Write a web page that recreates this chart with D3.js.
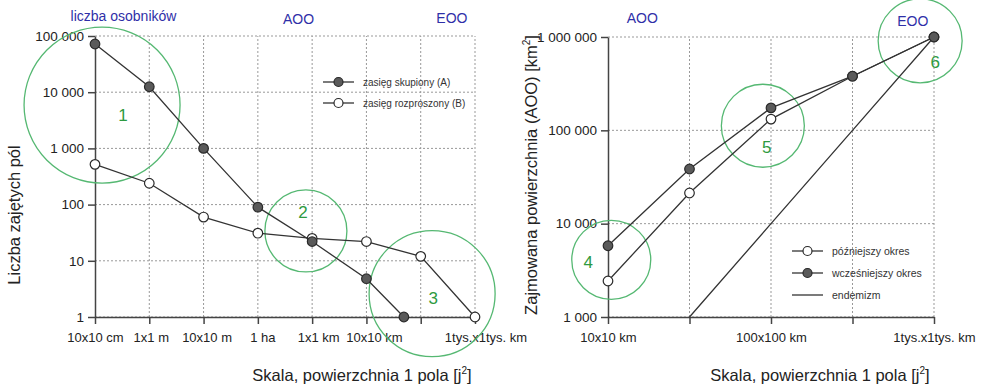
<!DOCTYPE html>
<html>
<head>
<meta charset="utf-8">
<script src="https://cdn.jsdelivr.net/npm/d3@7"></script>
<style>
  body { margin: 0; background: #fff; }
  svg { font-family: "Liberation Sans", Arial, sans-serif; }
</style>
</head>
<body>
<div id="chart"></div>
<script>
// ---- dane: wykres lewy (liczba zajetych pol) ----
var leftTickLabels = ["10x10 cm", "1x1 m", "10x10 m", "1 ha", "1x1 km", "10x10 km", "", "1tys.x1tys. km"];
var leftTickPos = [-2, 0, 2, 4, 6, 8, 10, 12]; // log10 powierzchni pola [m2]
var leftYTicks = [1, 10, 100, 1000, 10000, 100000];
var seriesAx = [-2, 0, 2, 4, 6, 8, 9.38];
var seriesA = [72000, 12500, 1000, 90, 22, 4.8, 1];      // zasieg skupiony (A)
var seriesBx = [-2, 0, 2, 4, 6, 8, 10, 12];
var seriesB = [520, 240, 60, 31, 25, 22, 12, 1];         // zasieg rozproszony (B)

// ---- dane: wykres prawy (AOO) ----
var rightTickLabels = ["10x10 km", "", "100x100 km", "", "1tys.x1tys. km"];
var rightTickPos = [2, 3, 4, 5, 6]; // log10 powierzchni pola [km2]
var rightYTicks = [1000, 10000, 100000, 1000000];
var laterX = [2, 3, 4, 5, 6];
var later = [2430, 21300, 132000, 380000, 1000000];      // pozniejszy okres
var earlierX = [2, 3, 4, 5, 6];
var earlier = [5800, 38500, 174000, 380000, 1000000];    // wczesniejszy okres
var endemX = [3, 4, 5, 6];
var endem = [1000, 10000, 100000, 1000000];              // endemizm

// kola (srodek w jednostkach danych, promien w px)
var leftCircles = [
  { id: "1", x: -1.74, v: 5900, r: 78, dx: 21, dy: 10 },
  { id: "2", x: 5.77, v: 34, r: 41, dx: -3, dy: -18 },
  { id: "3", x: 10.42, v: 2.6, r: 63, dx: 1, dy: 5 }
];
var rightCircles = [
  { id: "4", x: 2.04, v: 4100, r: 39.5, dx: -23, dy: 3 },
  { id: "5", x: 3.9, v: 112000, r: 41.5, dx: 4, dy: 22 },
  { id: "6", x: 5.83, v: 910000, r: 42, dx: 15, dy: 22 }
];
var leftTop = [{ t: "liczba osobników", x: -0.95, y: 21 }, { t: "AOO", x: 5.5, y: 24 }, { t: "EOO", x: 11.15, y: 23 }];
var rightTop = [{ t: "AOO", x: 2.42, y: 23 }, { t: "EOO", x: 5.74, y: 26 }];

var width = 985, height = 387;
var green = "#55b872", blue = "#2f2fa8", lineCol = "#333";

var svg = d3.select("#chart").append("svg")
  .attr("width", width).attr("height", height);

function fmt(v) { return d3.format(",")(v).replace(/,/g, " "); }

// rysuje jeden panel
function panel(o) {
  var x = d3.scaleLinear().domain(o.xDomain).range(o.xRange);
  var y = d3.scaleLog().domain(o.yDomain).range(o.yRange);
  var g = svg.append("g");

  // siatka kropkowana
  g.selectAll(".hg").data(o.yTicks).enter().append("line")
    .attr("x1", o.xRange[0]).attr("x2", o.xRange[1])
    .attr("y1", function(d) { return y(d); }).attr("y2", function(d) { return y(d); })
    .attr("stroke", "#999").attr("stroke-dasharray", "2,2").attr("stroke-width", 1);
  g.selectAll(".vg").data(o.xTicks.slice(1)).enter().append("line")
    .attr("x1", function(d) { return x(d); }).attr("x2", function(d) { return x(d); })
    .attr("y1", o.yRange[0]).attr("y2", o.yRange[1])
    .attr("stroke", "#999").attr("stroke-dasharray", "2,2").attr("stroke-width", 1);

  // osie
  var xa = g.append("g").attr("transform", "translate(0," + o.yRange[0] + ")")
    .call(d3.axisBottom(x).tickValues(o.xTicks).tickSize(7).tickSizeOuter(0)
      .tickFormat(function(d, i) { return o.xLabels[i]; }).tickPadding(9));
  var ya = g.append("g").attr("transform", "translate(" + o.xRange[0] + ",0)")
    .call(d3.axisLeft(y).tickValues(o.yTicks).tickSize(7).tickSizeOuter(0)
      .tickFormat(fmt).tickPadding(4));
  [xa, ya].forEach(function(a) {
    a.select(".domain").attr("stroke", "#444").attr("stroke-width", 1.5);
    a.selectAll(".tick line").attr("stroke", "#444").attr("stroke-width", 1.5);
    a.selectAll("text").attr("font-size", 13).attr("fill", "#222")
      .attr("font-family", "Liberation Sans, Arial, sans-serif");
  });
  ya.selectAll("text").attr("font-size", 13.5);
  if (o.xShift) xa.selectAll(".tick text").attr("dx", function(d, i) { return i * o.xShift; });

  // kola i numery
  var c = g.selectAll(".circ").data(o.circles).enter().append("g");
  c.append("circle")
    .attr("cx", function(d) { return x(d.x); }).attr("cy", function(d) { return y(d.v); })
    .attr("r", function(d) { return d.r; })
    .attr("fill", "none").attr("stroke", green).attr("stroke-width", 1.3);
  c.append("text")
    .attr("x", function(d) { return x(d.x) + d.dx; }).attr("y", function(d) { return y(d.v) + d.dy; })
    .attr("text-anchor", "middle").attr("dominant-baseline", "central")
    .attr("font-size", 17).attr("fill", "#2e9a40").text(function(d) { return d.id; });

  // linie i punkty
  var line = d3.line().x(function(d) { return x(d[0]); }).y(function(d) { return y(d[1]); });
  o.series.forEach(function(s) {
    var pts = d3.zip(s.x, s.v);
    g.append("path").datum(pts).attr("d", line)
      .attr("fill", "none").attr("stroke", lineCol).attr("stroke-width", 1.3);
    if (s.marker) {
      g.selectAll(null).data(pts).enter().append("circle")
        .attr("cx", function(d) { return x(d[0]); }).attr("cy", function(d) { return y(d[1]); })
        .attr("r", 4.8)
        .attr("fill", s.marker === "filled" ? "#5a5a5a" : "#fff")
        .attr("stroke", "#2a2a2a").attr("stroke-width", 1.2);
    }
  });

  // legenda
  var lg = g.selectAll(".lg").data(o.legend).enter().append("g")
    .attr("transform", function(d, i) { return "translate(" + o.legendX + "," + (o.legendY + i * o.legendStep) + ")"; });
  lg.append("line").attr("x1", 0).attr("x2", 31).attr("stroke", lineCol).attr("stroke-width", 1.3);
  lg.filter(function(d) { return d.marker; }).append("circle")
    .attr("cx", 15.5).attr("r", 4.5)
    .attr("fill", function(d) { return d.marker === "filled" ? "#5a5a5a" : "#fff"; })
    .attr("stroke", "#2a2a2a").attr("stroke-width", 1.2);
  lg.append("text").attr("x", 40).attr("dy", "0.35em")
    .attr("font-size", o.legendFont).attr("fill", "#333").text(function(d) { return d.label; });

  // napisy u gory
  g.selectAll(".top").data(o.top).enter().append("text")
    .attr("x", function(d) { return x(d.x); }).attr("y", function(d) { return d.y; })
    .attr("text-anchor", "middle").attr("font-size", 14).attr("fill", blue)
    .text(function(d) { return d.t; });

  // tytuly osi
  var xt = g.append("text").attr("x", o.xTitleX).attr("y", 381)
    .attr("text-anchor", "middle").attr("font-size", 16.5).attr("fill", "#222");
  xt.append("tspan").text("Skala, powierzchnia 1 pola [j");
  xt.append("tspan").attr("font-size", 10).attr("dy", -7).text("2");
  xt.append("tspan").attr("dy", 7).text("]");

  var yt = g.append("text")
    .attr("transform", "translate(" + o.yTitleX + "," + o.yTitleY + ") rotate(-90)")
    .attr("text-anchor", "middle").attr("font-size", 16.5).attr("fill", "#222");
  yt.append("tspan").text(o.yTitle);
  if (o.yTitleSup) {
    yt.append("tspan").attr("font-size", 10).attr("dy", -7).text("2");
    yt.append("tspan").attr("dy", 7).text("]");
  }
}

panel({
  xDomain: [-2, 12], xRange: [95, 475],
  yDomain: [1, 100000], yRange: [317, 36],
  xTicks: leftTickPos, xLabels: leftTickLabels, yTicks: leftYTicks, xShift: 1.5,
  circles: leftCircles,
  series: [
    { x: seriesBx, v: seriesB, marker: "open" },
    { x: seriesAx, v: seriesA, marker: "filled" }
  ],
  legend: [{ label: "zasięg skupiony (A)", marker: "filled" }, { label: "zasięg rozproszony (B)", marker: "open" }],
  legendX: 323, legendY: 82, legendStep: 21, legendFont: 10,
  top: leftTop,
  xTitleX: 362, yTitleX: 20, yTitleY: 215, yTitle: "Liczba zajętych pól"
});

panel({
  xDomain: [2, 6], xRange: [608, 934],
  yDomain: [1000, 1000000], yRange: [317, 37],
  xTicks: rightTickPos, xLabels: rightTickLabels, yTicks: rightYTicks,
  circles: rightCircles,
  series: [
    { x: endemX, v: endem, marker: null },
    { x: laterX, v: later, marker: "open" },
    { x: earlierX, v: earlier, marker: "filled" }
  ],
  legend: [{ label: "późniejszy okres", marker: "open" }, { label: "wcześniejszy okres", marker: "filled" }, { label: "endemizm", marker: null }],
  legendX: 792, legendY: 251, legendStep: 22, legendFont: 10.5,
  top: rightTop,
  xTitleX: 820, yTitleX: 537, yTitleY: 175, yTitle: "Zajmowana powierzchnia (AOO) [km", yTitleSup: true
});
</script>
</body>
</html>
